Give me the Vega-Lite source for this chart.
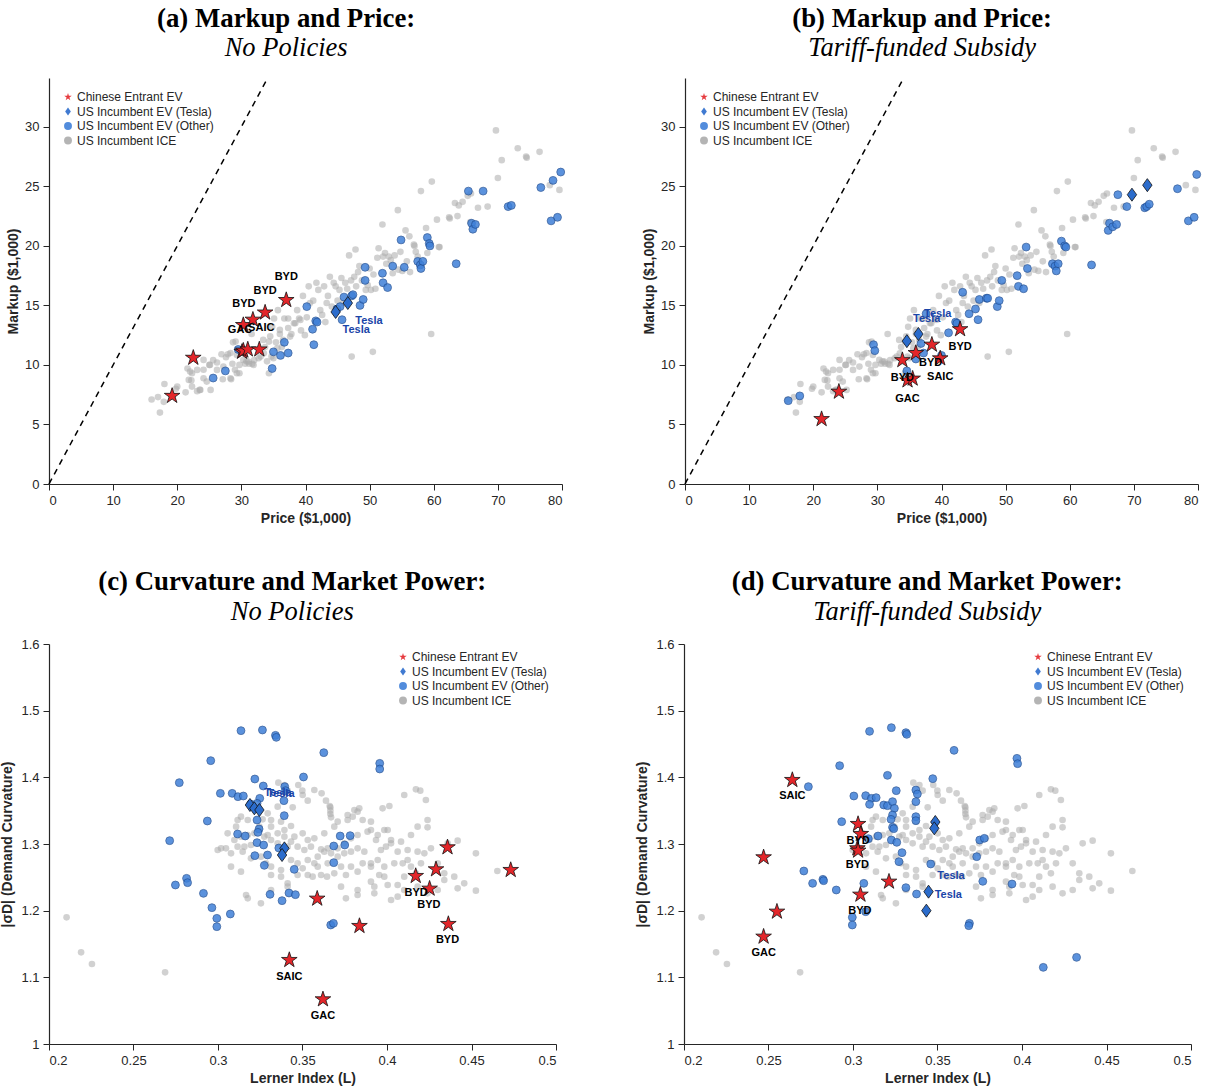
{
"$schema": "https://vega.github.io/schema/vega-lite/v6.json",
"padding": {"left": 0, "top": 5, "right": 5, "bottom": 5},
"background": "white",
"config": {
  "view": {"stroke": null},
  "axis": {"grid": false, "domainColor": "#262626", "domainWidth": 1.2, "tickColor": "#262626", "tickSize": 6, "tickWidth": 1, "labelFont": "Liberation Sans", "labelFontSize": 13, "labelColor": "#262626", "labelPadding": 4, "titleFont": "Liberation Sans", "titleFontSize": 14, "titleFontWeight": "bold", "titleColor": "#262626", "titlePadding": 4},
  "title": {"font": "Liberation Serif", "fontSize": 26.8, "fontWeight": "bold", "color": "black", "subtitleFont": "Liberation Serif", "subtitleFontSize": 26.5, "subtitleFontStyle": "italic", "subtitleFontWeight": "normal", "subtitleColor": "black", "subtitlePadding": 3, "offset": 13, "anchor": "middle", "frame": "bounds"},
  "legend": {"title": null, "labelFont": "Liberation Sans", "labelFontSize": 12, "labelColor": "#262626", "rowPadding": 2.5, "labelOffset": 3, "symbolSize": 62, "symbolOpacity": 0.9, "symbolStrokeWidth": 0}
},
"datasets": {
  "diag": [{"p": 0, "m": 0}, {"p": 34.1, "m": 34.1}],
  "iceTop": [
{"p":16.0,"m":7.1},{"p":17.3,"m":6.0},{"p":18.0,"m":8.4},{"p":17.9,"m":6.9},{"p":17.0,"m":7.3},{"p":19.8,"m":8.0},{"p":21.3,"m":7.7},{"p":21.6,"m":9.7},{"p":22.2,"m":8.7},{"p":22.3,"m":9.3},{"p":23.1,"m":7.8},{"p":23.5,"m":7.9},{"p":24.1,"m":9.6},{"p":24.6,"m":8.6},{"p":25.2,"m":7.9},{"p":25.0,"m":10.0},{"p":25.6,"m":10.4},{"p":26.2,"m":10.2},{"p":26.9,"m":10.9},{"p":27.1,"m":8.8},{"p":27.9,"m":10.9},{"p":28.4,"m":8.8},{"p":28.6,"m":10.1},{"p":28.7,"m":11.9},{"p":29.0,"m":9.6},{"p":29.7,"m":9.3},{"p":30.6,"m":10.1},{"p":30.8,"m":10.3},{"p":31.2,"m":10.1},{"p":31.6,"m":12.6},{"p":31.7,"m":10.1},{"p":32.0,"m":10.4},{"p":33.0,"m":10.7},{"p":33.4,"m":12.1},{"p":33.7,"m":11.5},{"p":34.0,"m":10.3},{"p":34.3,"m":9.3},{"p":34.5,"m":12.4},{"p":34.7,"m":10.7},{"p":34.8,"m":13.2},{"p":35.1,"m":13.9},{"p":35.4,"m":11.9},{"p":35.7,"m":14.6},{"p":36.0,"m":12.6},{"p":36.3,"m":11.5},{"p":36.7,"m":13.9},{"p":37.3,"m":13.1},{"p":37.3,"m":13.9},{"p":37.8,"m":12.6},{"p":38.4,"m":13.5},{"p":38.7,"m":14.6},{"p":39.0,"m":13.9},{"p":39.3,"m":12.9},{"p":39.6,"m":15.8},{"p":39.9,"m":12.5},{"p":40.2,"m":14.0},{"p":40.5,"m":16.6},{"p":40.7,"m":15.2},{"p":41.2,"m":15.4},{"p":41.7,"m":16.9},{"p":42.0,"m":16.3},{"p":42.3,"m":14.6},{"p":42.6,"m":14.2},{"p":42.9,"m":16.6},{"p":43.1,"m":13.6},{"p":43.3,"m":15.2},{"p":43.5,"m":15.8},{"p":43.8,"m":17.4},{"p":44.1,"m":14.9},{"p":44.4,"m":16.9},{"p":44.7,"m":16.6},{"p":45.0,"m":15.4},{"p":45.3,"m":16.3},{"p":45.6,"m":17.3},{"p":45.9,"m":15.2},{"p":46.2,"m":16.9},{"p":46.5,"m":16.4},{"p":46.8,"m":19.2},{"p":47.1,"m":17.1},{"p":47.2,"m":10.7},{"p":47.6,"m":17.4},{"p":47.8,"m":19.7},{"p":47.9,"m":16.6},{"p":48.2,"m":17.8},{"p":48.4,"m":18.3},{"p":48.8,"m":17.1},{"p":49.4,"m":16.3},{"p":49.7,"m":16.7},{"p":50.0,"m":18.1},{"p":50.2,"m":16.3},{"p":50.5,"m":11.1},{"p":50.6,"m":17.6},{"p":50.9,"m":16.4},{"p":51.2,"m":19.0},{"p":51.4,"m":19.8},{"p":52.0,"m":21.8},{"p":52.1,"m":19.1},{"p":52.4,"m":19.4},{"p":52.6,"m":18.5},{"p":53.0,"m":19.1},{"p":53.3,"m":18.8},{"p":53.6,"m":17.7},{"p":53.9,"m":19.2},{"p":54.4,"m":23.0},{"p":54.5,"m":18.0},{"p":54.8,"m":19.5},{"p":55.1,"m":17.9},{"p":55.6,"m":21.3},{"p":55.8,"m":18.7},{"p":56.2,"m":20.8},{"p":56.3,"m":17.8},{"p":56.9,"m":20.1},{"p":57.2,"m":19.5},{"p":57.5,"m":19.1},{"p":58.0,"m":24.6},{"p":58.8,"m":21.5},{"p":59.0,"m":19.4},{"p":59.6,"m":12.6},{"p":59.7,"m":25.4},{"p":60.5,"m":22.2},{"p":60.8,"m":19.9},{"p":62.4,"m":22.4},{"p":63.3,"m":23.6},{"p":63.7,"m":22.5},{"p":63.9,"m":23.4},{"p":64.5,"m":23.7},{"p":65.3,"m":24.2},{"p":65.8,"m":24.4},{"p":65.7,"m":22.0},{"p":66.9,"m":23.2},{"p":68.4,"m":23.3},{"p":69.7,"m":29.7},{"p":70.0,"m":25.7},{"p":70.6,"m":27.2},{"p":73.1,"m":28.2},{"p":74.4,"m":27.5},{"p":74.5,"m":27.4},{"p":76.5,"m":27.9},{"p":78.1,"m":25.1},{"p":79.6,"m":24.7},
{"p":27.6,"m":10.65},{"p":28.3,"m":11.0},{"p":29.1,"m":11.96},{"p":29.3,"m":10.84},{"p":29.7,"m":10.0},{"p":30.3,"m":10.42},{"p":31.1,"m":10.28},{"p":31.9,"m":10.0},{"p":32.7,"m":10.56},{"p":33.5,"m":10.98},{"p":34.3,"m":11.96},{"p":35.0,"m":10.56},{"p":35.6,"m":11.4},{"p":36.0,"m":12.94},{"p":36.5,"m":12.1},{"p":37.6,"m":12.38},{"p":38.2,"m":13.5},{"p":39.2,"m":13.78},{"p":22.0,"m":9.44},{"p":23.1,"m":9.58},{"p":24.1,"m":10.42},{"p":25.1,"m":10.0},{"p":26.2,"m":9.58},{"p":27.2,"m":9.86},{"p":28.3,"m":8.88},{"p":29.3,"m":9.3},{"p":24.1,"m":8.88},{"p":21.8,"m":8.74},{"p":22.3,"m":8.18},{"p":23.6,"m":7.9},{"p":20.0,"m":8.18},{"p":62.5,"m":22.3},{"p":60.9,"m":19.9},{"p":57.0,"m":20.0}
  ],
  "evA": [
{"p":29.5,"m":11.3,"g":"US Incumbent EV (Other)"},{"p":25.6,"m":8.9,"g":"US Incumbent EV (Other)"},{"p":27.5,"m":9.5,"g":"US Incumbent EV (Other)"},{"p":34.8,"m":9.7,"g":"US Incumbent EV (Other)"},{"p":35.0,"m":11.1,"g":"US Incumbent EV (Other)"},{"p":36.1,"m":10.8,"g":"US Incumbent EV (Other)"},{"p":36.7,"m":11.9,"g":"US Incumbent EV (Other)"},{"p":37.3,"m":11.0,"g":"US Incumbent EV (Other)"},{"p":40.2,"m":14.9,"g":"US Incumbent EV (Other)"},{"p":41.1,"m":13.0,"g":"US Incumbent EV (Other)"},{"p":41.3,"m":11.7,"g":"US Incumbent EV (Other)"},{"p":41.6,"m":13.7,"g":"US Incumbent EV (Other)"},{"p":41.8,"m":13.6,"g":"US Incumbent EV (Other)"},{"p":44.9,"m":14.7,"g":"US Incumbent EV (Other)"},{"p":45.4,"m":14.9,"g":"US Incumbent EV (Other)"},{"p":45.7,"m":13.8,"g":"US Incumbent EV (Other)"},{"p":46.0,"m":15.7,"g":"US Incumbent EV (Other)"},{"p":47.2,"m":15.8,"g":"US Incumbent EV (Other)"},{"p":47.4,"m":15.9,"g":"US Incumbent EV (Other)"},{"p":48.5,"m":15.0,"g":"US Incumbent EV (Other)"},{"p":49.0,"m":15.5,"g":"US Incumbent EV (Other)"},{"p":49.3,"m":18.2,"g":"US Incumbent EV (Other)"},{"p":49.3,"m":17.1,"g":"US Incumbent EV (Other)"},{"p":52.0,"m":17.7,"g":"US Incumbent EV (Other)"},{"p":52.1,"m":16.9,"g":"US Incumbent EV (Other)"},{"p":52.8,"m":16.5,"g":"US Incumbent EV (Other)"},{"p":53.6,"m":18.3,"g":"US Incumbent EV (Other)"},{"p":54.9,"m":20.5,"g":"US Incumbent EV (Other)"},{"p":55.4,"m":18.2,"g":"US Incumbent EV (Other)"},{"p":57.5,"m":18.7,"g":"US Incumbent EV (Other)"},{"p":57.9,"m":18.4,"g":"US Incumbent EV (Other)"},{"p":58.0,"m":18.1,"g":"US Incumbent EV (Other)"},{"p":58.3,"m":18.7,"g":"US Incumbent EV (Other)"},{"p":59.0,"m":20.7,"g":"US Incumbent EV (Other)"},{"p":59.3,"m":20.2,"g":"US Incumbent EV (Other)"},{"p":59.4,"m":20.0,"g":"US Incumbent EV (Other)"},{"p":63.5,"m":18.5,"g":"US Incumbent EV (Other)"},{"p":65.4,"m":24.6,"g":"US Incumbent EV (Other)"},{"p":65.9,"m":21.9,"g":"US Incumbent EV (Other)"},{"p":66.1,"m":21.4,"g":"US Incumbent EV (Other)"},{"p":66.5,"m":21.8,"g":"US Incumbent EV (Other)"},{"p":67.7,"m":24.6,"g":"US Incumbent EV (Other)"},{"p":71.6,"m":23.3,"g":"US Incumbent EV (Other)"},{"p":72.1,"m":23.4,"g":"US Incumbent EV (Other)"},{"p":76.7,"m":24.9,"g":"US Incumbent EV (Other)"},{"p":78.3,"m":22.1,"g":"US Incumbent EV (Other)"},{"p":78.6,"m":25.5,"g":"US Incumbent EV (Other)"},{"p":79.3,"m":22.4,"g":"US Incumbent EV (Other)"},{"p":79.8,"m":26.2,"g":"US Incumbent EV (Other)"},
{"p":44.7,"m":14.45,"g":"US Incumbent EV (Tesla)"},{"p":46.6,"m":15.2,"g":"US Incumbent EV (Tesla)"},
{"p":19.2,"m":7.4,"g":"Chinese Entrant EV"},{"p":22.5,"m":10.6,"g":"Chinese Entrant EV"},{"p":30.3,"m":13.35,"g":"Chinese Entrant EV"},{"p":31.8,"m":13.8,"g":"Chinese Entrant EV"},{"p":33.7,"m":14.4,"g":"Chinese Entrant EV"},{"p":37.0,"m":15.45,"g":"Chinese Entrant EV"},{"p":30.1,"m":11.1,"g":"Chinese Entrant EV"},{"p":30.3,"m":11.2,"g":"Chinese Entrant EV"},{"p":31.0,"m":11.3,"g":"Chinese Entrant EV"},{"p":32.8,"m":11.3,"g":"Chinese Entrant EV"}
  ],
  "labA": [
{"p":37.0,"m":17.4,"t":"BYD"},{"p":33.7,"m":16.2,"t":"BYD"},{"p":30.4,"m":15.1,"t":"BYD"},{"p":29.8,"m":12.95,"t":"GAC"},{"p":33.1,"m":13.1,"t":"SAIC"},{"p":49.9,"m":13.7,"t":"Tesla"},{"p":47.9,"m":12.95,"t":"Tesla"}
  ],
  "evB": [
{"p":16.1,"m":7.0,"g":"US Incumbent EV (Other)"},{"p":17.9,"m":7.4,"g":"US Incumbent EV (Other)"},{"p":29.4,"m":11.7,"g":"US Incumbent EV (Other)"},{"p":29.6,"m":11.2,"g":"US Incumbent EV (Other)"},{"p":34.6,"m":9.5,"g":"US Incumbent EV (Other)"},{"p":36.0,"m":10.5,"g":"US Incumbent EV (Other)"},{"p":37.2,"m":11.0,"g":"US Incumbent EV (Other)"},{"p":36.8,"m":11.8,"g":"US Incumbent EV (Other)"},{"p":37.6,"m":14.3,"g":"US Incumbent EV (Other)"},{"p":40.0,"m":10.8,"g":"US Incumbent EV (Other)"},{"p":41.1,"m":12.7,"g":"US Incumbent EV (Other)"},{"p":42.2,"m":13.6,"g":"US Incumbent EV (Other)"},{"p":42.4,"m":13.5,"g":"US Incumbent EV (Other)"},{"p":43.3,"m":16.1,"g":"US Incumbent EV (Other)"},{"p":44.3,"m":14.3,"g":"US Incumbent EV (Other)"},{"p":45.3,"m":14.7,"g":"US Incumbent EV (Other)"},{"p":45.7,"m":13.8,"g":"US Incumbent EV (Other)"},{"p":45.9,"m":15.5,"g":"US Incumbent EV (Other)"},{"p":47.0,"m":15.6,"g":"US Incumbent EV (Other)"},{"p":47.2,"m":15.6,"g":"US Incumbent EV (Other)"},{"p":48.7,"m":14.9,"g":"US Incumbent EV (Other)"},{"p":49.0,"m":15.4,"g":"US Incumbent EV (Other)"},{"p":49.4,"m":17.1,"g":"US Incumbent EV (Other)"},{"p":51.8,"m":17.5,"g":"US Incumbent EV (Other)"},{"p":52.0,"m":16.6,"g":"US Incumbent EV (Other)"},{"p":52.8,"m":16.4,"g":"US Incumbent EV (Other)"},{"p":53.2,"m":19.9,"g":"US Incumbent EV (Other)"},{"p":53.4,"m":18.1,"g":"US Incumbent EV (Other)"},{"p":57.3,"m":18.5,"g":"US Incumbent EV (Other)"},{"p":57.7,"m":18.3,"g":"US Incumbent EV (Other)"},{"p":57.9,"m":17.9,"g":"US Incumbent EV (Other)"},{"p":58.2,"m":18.5,"g":"US Incumbent EV (Other)"},{"p":58.7,"m":20.4,"g":"US Incumbent EV (Other)"},{"p":59.2,"m":20.0,"g":"US Incumbent EV (Other)"},{"p":59.4,"m":19.9,"g":"US Incumbent EV (Other)"},{"p":63.4,"m":18.4,"g":"US Incumbent EV (Other)"},{"p":66.0,"m":21.3,"g":"US Incumbent EV (Other)"},{"p":66.2,"m":21.9,"g":"US Incumbent EV (Other)"},{"p":66.7,"m":21.6,"g":"US Incumbent EV (Other)"},{"p":67.3,"m":21.8,"g":"US Incumbent EV (Other)"},{"p":67.5,"m":24.3,"g":"US Incumbent EV (Other)"},{"p":68.9,"m":23.3,"g":"US Incumbent EV (Other)"},{"p":71.7,"m":23.2,"g":"US Incumbent EV (Other)"},{"p":72.0,"m":23.3,"g":"US Incumbent EV (Other)"},{"p":72.4,"m":23.5,"g":"US Incumbent EV (Other)"},{"p":76.8,"m":24.8,"g":"US Incumbent EV (Other)"},{"p":78.5,"m":22.1,"g":"US Incumbent EV (Other)"},{"p":79.4,"m":22.4,"g":"US Incumbent EV (Other)"},{"p":79.8,"m":26.0,"g":"US Incumbent EV (Other)"},
{"p":34.6,"m":12.0,"g":"US Incumbent EV (Tesla)"},{"p":36.4,"m":12.6,"g":"US Incumbent EV (Tesla)"},{"p":69.7,"m":24.3,"g":"US Incumbent EV (Tesla)"},{"p":72.1,"m":25.1,"g":"US Incumbent EV (Tesla)"},
{"p":21.3,"m":5.45,"g":"Chinese Entrant EV"},{"p":24.0,"m":7.75,"g":"Chinese Entrant EV"},{"p":33.9,"m":10.4,"g":"Chinese Entrant EV"},{"p":36.0,"m":11.0,"g":"Chinese Entrant EV"},{"p":38.5,"m":11.7,"g":"Chinese Entrant EV"},{"p":39.8,"m":10.55,"g":"Chinese Entrant EV"},{"p":42.9,"m":13.0,"g":"Chinese Entrant EV"},{"p":34.7,"m":8.7,"g":"Chinese Entrant EV"},{"p":35.5,"m":8.85,"g":"Chinese Entrant EV"}
  ],
  "labB": [
{"p":42.9,"m":11.5,"t":"BYD"},{"p":38.3,"m":10.2,"t":"BYD"},{"p":39.8,"m":9.0,"t":"SAIC"},{"p":33.9,"m":8.9,"t":"BYD"},{"p":34.7,"m":7.1,"t":"GAC"},{"p":39.4,"m":14.3,"t":"Tesla"},{"p":37.7,"m":13.85,"t":"Tesla"}
  ],
  "iceBot": [
{"L":0.3357,"s":1.392},{"L":0.3393,"s":1.3885},{"L":0.3475,"s":1.3885},{"L":0.3499,"s":1.380},{"L":0.357,"s":1.381},{"L":0.3613,"s":1.376},{"L":0.3531,"s":1.365},{"L":0.3639,"s":1.365},{"L":0.3665,"s":1.355},{"L":0.3665,"s":1.350},{"L":0.3665,"s":1.345},{"L":0.3669,"s":1.340},{"L":0.3661,"s":1.357},{"L":0.3501,"s":1.3735},{"L":0.3412,"s":1.380},{"L":0.3442,"s":1.355},{"L":0.3353,"s":1.356},{"L":0.3294,"s":1.346},{"L":0.3264,"s":1.337},{"L":0.3314,"s":1.336},{"L":0.3373,"s":1.3335},{"L":0.3432,"s":1.327},{"L":0.3501,"s":1.316},{"L":0.3452,"s":1.311},{"L":0.3393,"s":1.321},{"L":0.3314,"s":1.326},{"L":0.3245,"s":1.326},{"L":0.3176,"s":1.336},{"L":0.3136,"s":1.341},{"L":0.3116,"s":1.336},{"L":0.3107,"s":1.326},{"L":0.3057,"s":1.316},{"L":0.3097,"s":1.306},{"L":0.3136,"s":1.311},{"L":0.3176,"s":1.3135},{"L":0.3215,"s":1.316},{"L":0.3274,"s":1.311},{"L":0.3314,"s":1.306},{"L":0.3353,"s":1.301},{"L":0.3412,"s":1.296},{"L":0.3471,"s":1.296},{"L":0.3531,"s":1.306},{"L":0.357,"s":1.3085},{"L":0.3629,"s":1.316},{"L":0.3688,"s":1.326},{"L":0.3708,"s":1.3335},{"L":0.3767,"s":1.3435},{"L":0.3807,"s":1.351},{"L":0.3826,"s":1.3485},{"L":0.3836,"s":1.3535},{"L":0.3905,"s":1.3335},{"L":0.3974,"s":1.3535},{"L":0.4014,"s":1.357},{"L":0.3885,"s":1.3185},{"L":0.3935,"s":1.306},{"L":0.3964,"s":1.291},{"L":0.3994,"s":1.296},{"L":0.4024,"s":1.306},{"L":0.4102,"s":1.3735},{"L":0.4171,"s":1.382},{"L":0.4197,"s":1.380},{"L":0.423,"s":1.366},{"L":0.424,"s":1.325},{"L":0.4083,"s":1.3035},{"L":0.4122,"s":1.291},{"L":0.4181,"s":1.2885},{"L":0.4221,"s":1.286},{"L":0.426,"s":1.2935},{"L":0.4359,"s":1.301},{"L":0.4418,"s":1.305},{"L":0.43,"s":1.271},{"L":0.4339,"s":1.256},{"L":0.4398,"s":1.251},{"L":0.4457,"s":1.241},{"L":0.4526,"s":1.286},{"L":0.4526,"s":1.230},{"L":0.4418,"s":1.2335},{"L":0.4339,"s":1.246},{"L":0.43,"s":1.231},{"L":0.424,"s":1.226},{"L":0.4181,"s":1.236},{"L":0.4102,"s":1.231},{"L":0.4063,"s":1.2385},{"L":0.3984,"s":1.251},{"L":0.3925,"s":1.236},{"L":0.3905,"s":1.266},{"L":0.3856,"s":1.271},{"L":0.3787,"s":1.266},{"L":0.3757,"s":1.2535},{"L":0.3728,"s":1.266},{"L":0.3708,"s":1.281},{"L":0.3669,"s":1.286},{"L":0.3629,"s":1.2885},{"L":0.359,"s":1.281},{"L":0.357,"s":1.271},{"L":0.3531,"s":1.276},{"L":0.3501,"s":1.2635},{"L":0.3471,"s":1.271},{"L":0.3432,"s":1.276},{"L":0.3373,"s":1.261},{"L":0.3314,"s":1.266},{"L":0.3284,"s":1.271},{"L":0.3254,"s":1.281},{"L":0.3195,"s":1.2785},{"L":0.3146,"s":1.2885},{"L":0.3077,"s":1.286},{"L":0.3047,"s":1.2935},{"L":0.3018,"s":1.2935},{"L":0.2998,"s":1.291},{"L":0.3077,"s":1.266},{"L":0.3136,"s":1.2585},{"L":0.3314,"s":1.2535},{"L":0.3373,"s":1.251},{"L":0.3412,"s":1.241},{"L":0.3471,"s":1.2535},{"L":0.3531,"s":1.2535},{"L":0.356,"s":1.251},{"L":0.359,"s":1.266},{"L":0.3649,"s":1.271},{"L":0.3688,"s":1.256},{"L":0.3728,"s":1.236},{"L":0.3757,"s":1.2185},{"L":0.3826,"s":1.231},{"L":0.3826,"s":1.2235},{"L":0.3905,"s":1.2435},{"L":0.3925,"s":1.226},{"L":0.3954,"s":1.2535},{"L":0.4004,"s":1.2385},{"L":0.4024,"s":1.216},{"L":0.4063,"s":1.221},{"L":0.4102,"s":1.251},{"L":0.4142,"s":1.266},{"L":0.4093,"s":1.271},{"L":0.4043,"s":1.271},{"L":0.3984,"s":1.266},{"L":0.3945,"s":1.276},{"L":0.3866,"s":1.2885},{"L":0.3826,"s":1.2935},{"L":0.3787,"s":1.2885},{"L":0.3747,"s":1.286},{"L":0.3708,"s":1.2935},{"L":0.3649,"s":1.2935},{"L":0.361,"s":1.292},{"L":0.355,"s":1.296},{"L":0.3511,"s":1.291},{"L":0.3432,"s":1.3035},{"L":0.3393,"s":1.311},{"L":0.3353,"s":1.316},{"L":0.3294,"s":1.3135},{"L":0.3195,"s":1.2985},{"L":0.3156,"s":1.296},{"L":0.3116,"s":1.296},{"L":0.3176,"s":1.2185},{"L":0.3254,"s":1.211},{"L":0.3314,"s":1.231},{"L":0.3412,"s":1.236},{"L":0.3166,"s":1.2235},{"L":0.4171,"s":1.256},{"L":0.4122,"s":1.276},{"L":0.4201,"s":1.271},{"L":0.424,"s":1.336},{"L":0.4181,"s":1.326},{"L":0.4142,"s":1.3135},{"L":0.4004,"s":1.321},{"L":0.3905,"s":1.321},{"L":0.3856,"s":1.336},{"L":0.3797,"s":1.341},{"L":0.3767,"s":1.336},{"L":0.3905,"s":1.271},{"L":0.3826,"s":1.2585},{"L":0.361,"s":1.2535},{"L":0.3645,"s":1.251},{"L":0.3747,"s":1.301},{"L":0.3787,"s":1.3085},{"L":0.3826,"s":1.3135},{"L":0.3945,"s":1.3135},{"L":0.3984,"s":1.321},{"L":0.4024,"s":1.301},{"L":0.4063,"s":1.2885},
{"L":0.4653,"s":1.2595},{"L":0.2104,"s":1.19},{"L":0.219,"s":1.1375},{"L":0.2254,"s":1.12},{"L":0.2687,"s":1.1075}
  ],
  "evC": [
{"L":0.3136,"s":1.470,"g":"US Incumbent EV (Other)"},{"L":0.3263,"s":1.471,"g":"US Incumbent EV (Other)"},{"L":0.334,"s":1.463,"g":"US Incumbent EV (Other)"},{"L":0.3345,"s":1.460,"g":"US Incumbent EV (Other)"},{"L":0.2957,"s":1.425,"g":"US Incumbent EV (Other)"},{"L":0.3626,"s":1.437,"g":"US Incumbent EV (Other)"},{"L":0.3957,"s":1.421,"g":"US Incumbent EV (Other)"},{"L":0.3957,"s":1.4125,"g":"US Incumbent EV (Other)"},{"L":0.2771,"s":1.392,"g":"US Incumbent EV (Other)"},{"L":0.3218,"s":1.3975,"g":"US Incumbent EV (Other)"},{"L":0.3506,"s":1.4005,"g":"US Incumbent EV (Other)"},{"L":0.3014,"s":1.376,"g":"US Incumbent EV (Other)"},{"L":0.3084,"s":1.376,"g":"US Incumbent EV (Other)"},{"L":0.3118,"s":1.371,"g":"US Incumbent EV (Other)"},{"L":0.315,"s":1.372,"g":"US Incumbent EV (Other)"},{"L":0.3268,"s":1.387,"g":"US Incumbent EV (Other)"},{"L":0.3395,"s":1.386,"g":"US Incumbent EV (Other)"},{"L":0.340,"s":1.380,"g":"US Incumbent EV (Other)"},{"L":0.339,"s":1.365,"g":"US Incumbent EV (Other)"},{"L":0.3247,"s":1.3685,"g":"US Incumbent EV (Other)"},{"L":0.3231,"s":1.361,"g":"US Incumbent EV (Other)"},{"L":0.3193,"s":1.360,"g":"US Incumbent EV (Other)"},{"L":0.3392,"s":1.3425,"g":"US Incumbent EV (Other)"},{"L":0.3231,"s":1.336,"g":"US Incumbent EV (Other)"},{"L":0.2937,"s":1.3345,"g":"US Incumbent EV (Other)"},{"L":0.3243,"s":1.3225,"g":"US Incumbent EV (Other)"},{"L":0.3236,"s":1.3175,"g":"US Incumbent EV (Other)"},{"L":0.3116,"s":1.315,"g":"US Incumbent EV (Other)"},{"L":0.3161,"s":1.312,"g":"US Incumbent EV (Other)"},{"L":0.2714,"s":1.305,"g":"US Incumbent EV (Other)"},{"L":0.3723,"s":1.312,"g":"US Incumbent EV (Other)"},{"L":0.3782,"s":1.3125,"g":"US Incumbent EV (Other)"},{"L":0.375,"s":1.2985,"g":"US Incumbent EV (Other)"},{"L":0.3685,"s":1.297,"g":"US Incumbent EV (Other)"},{"L":0.3231,"s":1.302,"g":"US Incumbent EV (Other)"},{"L":0.327,"s":1.2985,"g":"US Incumbent EV (Other)"},{"L":0.336,"s":1.294,"g":"US Incumbent EV (Other)"},{"L":0.3218,"s":1.2825,"g":"US Incumbent EV (Other)"},{"L":0.3293,"s":1.2835,"g":"US Incumbent EV (Other)"},{"L":0.3274,"s":1.268,"g":"US Incumbent EV (Other)"},{"L":0.3685,"s":1.272,"g":"US Incumbent EV (Other)"},{"L":0.3451,"s":1.262,"g":"US Incumbent EV (Other)"},{"L":0.2814,"s":1.2485,"g":"US Incumbent EV (Other)"},{"L":0.282,"s":1.242,"g":"US Incumbent EV (Other)"},{"L":0.2748,"s":1.2385,"g":"US Incumbent EV (Other)"},{"L":0.2914,"s":1.226,"g":"US Incumbent EV (Other)"},{"L":0.3308,"s":1.2245,"g":"US Incumbent EV (Other)"},{"L":0.342,"s":1.2265,"g":"US Incumbent EV (Other)"},{"L":0.3458,"s":1.224,"g":"US Incumbent EV (Other)"},{"L":0.3379,"s":1.215,"g":"US Incumbent EV (Other)"},{"L":0.2964,"s":1.2045,"g":"US Incumbent EV (Other)"},{"L":0.2993,"s":1.1885,"g":"US Incumbent EV (Other)"},{"L":0.2993,"s":1.176,"g":"US Incumbent EV (Other)"},{"L":0.3073,"s":1.195,"g":"US Incumbent EV (Other)"},{"L":0.3667,"s":1.1785,"g":"US Incumbent EV (Other)"},{"L":0.3683,"s":1.181,"g":"US Incumbent EV (Other)"},
{"L":0.3189,"s":1.3585,"g":"US Incumbent EV (Tesla)"},{"L":0.3215,"s":1.3535,"g":"US Incumbent EV (Tesla)"},{"L":0.3245,"s":1.351,"g":"US Incumbent EV (Tesla)"},{"L":0.3393,"s":1.2935,"g":"US Incumbent EV (Tesla)"},{"L":0.3379,"s":1.2835,"g":"US Incumbent EV (Tesla)"},
{"L":0.3587,"s":1.218,"g":"Chinese Entrant EV"},{"L":0.3837,"s":1.177,"g":"Chinese Entrant EV"},{"L":0.3422,"s":1.126,"g":"Chinese Entrant EV"},{"L":0.3621,"s":1.067,"g":"Chinese Entrant EV"},{"L":0.417,"s":1.252,"g":"Chinese Entrant EV"},{"L":0.4252,"s":1.233,"g":"Chinese Entrant EV"},{"L":0.429,"s":1.262,"g":"Chinese Entrant EV"},{"L":0.4358,"s":1.295,"g":"Chinese Entrant EV"},{"L":0.4363,"s":1.18,"g":"Chinese Entrant EV"},{"L":0.4732,"s":1.261,"g":"Chinese Entrant EV"}
  ],
  "labC": [
{"L":0.3422,"s":1.100,"t":"SAIC"},{"L":0.3621,"s":1.042,"t":"GAC"},{"L":0.4172,"s":1.227,"t":"BYD"},{"L":0.4248,"s":1.2085,"t":"BYD"},{"L":0.4358,"s":1.156,"t":"BYD"},{"L":0.3355,"s":1.3765,"t":"Tesla"},{"L":0.3372,"s":1.3745,"t":"Tesla"}
  ],
  "evD": [
{"L":0.3098,"s":1.469,"g":"US Incumbent EV (Other)"},{"L":0.3227,"s":1.4745,"g":"US Incumbent EV (Other)"},{"L":0.3313,"s":1.467,"g":"US Incumbent EV (Other)"},{"L":0.3318,"s":1.4645,"g":"US Incumbent EV (Other)"},{"L":0.3598,"s":1.4405,"g":"US Incumbent EV (Other)"},{"L":0.2921,"s":1.4175,"g":"US Incumbent EV (Other)"},{"L":0.3204,"s":1.403,"g":"US Incumbent EV (Other)"},{"L":0.3472,"s":1.398,"g":"US Incumbent EV (Other)"},{"L":0.397,"s":1.4285,"g":"US Incumbent EV (Other)"},{"L":0.3974,"s":1.4205,"g":"US Incumbent EV (Other)"},{"L":0.2736,"s":1.386,"g":"US Incumbent EV (Other)"},{"L":0.3005,"s":1.372,"g":"US Incumbent EV (Other)"},{"L":0.3075,"s":1.3725,"g":"US Incumbent EV (Other)"},{"L":0.3109,"s":1.3685,"g":"US Incumbent EV (Other)"},{"L":0.3137,"s":1.3695,"g":"US Incumbent EV (Other)"},{"L":0.3098,"s":1.3595,"g":"US Incumbent EV (Other)"},{"L":0.3182,"s":1.3585,"g":"US Incumbent EV (Other)"},{"L":0.3204,"s":1.3575,"g":"US Incumbent EV (Other)"},{"L":0.3234,"s":1.3635,"g":"US Incumbent EV (Other)"},{"L":0.3256,"s":1.380,"g":"US Incumbent EV (Other)"},{"L":0.3245,"s":1.3535,"g":"US Incumbent EV (Other)"},{"L":0.3372,"s":1.381,"g":"US Incumbent EV (Other)"},{"L":0.3381,"s":1.375,"g":"US Incumbent EV (Other)"},{"L":0.3372,"s":1.3635,"g":"US Incumbent EV (Other)"},{"L":0.3372,"s":1.341,"g":"US Incumbent EV (Other)"},{"L":0.3234,"s":1.3435,"g":"US Incumbent EV (Other)"},{"L":0.3225,"s":1.337,"g":"US Incumbent EV (Other)"},{"L":0.3234,"s":1.325,"g":"US Incumbent EV (Other)"},{"L":0.3241,"s":1.323,"g":"US Incumbent EV (Other)"},{"L":0.2933,"s":1.3335,"g":"US Incumbent EV (Other)"},{"L":0.3148,"s":1.312,"g":"US Incumbent EV (Other)"},{"L":0.3091,"s":1.308,"g":"US Incumbent EV (Other)"},{"L":0.3227,"s":1.306,"g":"US Incumbent EV (Other)"},{"L":0.3259,"s":1.3025,"g":"US Incumbent EV (Other)"},{"L":0.3372,"s":1.335,"g":"US Incumbent EV (Other)"},{"L":0.329,"s":1.287,"g":"US Incumbent EV (Other)"},{"L":0.3272,"s":1.2735,"g":"US Incumbent EV (Other)"},{"L":0.346,"s":1.270,"g":"US Incumbent EV (Other)"},{"L":0.375,"s":1.306,"g":"US Incumbent EV (Other)"},{"L":0.3777,"s":1.3085,"g":"US Incumbent EV (Other)"},{"L":0.3732,"s":1.281,"g":"US Incumbent EV (Other)"},{"L":0.3768,"s":1.244,"g":"US Incumbent EV (Other)"},{"L":0.2709,"s":1.2595,"g":"US Incumbent EV (Other)"},{"L":0.2761,"s":1.241,"g":"US Incumbent EV (Other)"},{"L":0.2822,"s":1.247,"g":"US Incumbent EV (Other)"},{"L":0.2826,"s":1.245,"g":"US Incumbent EV (Other)"},{"L":0.2901,"s":1.231,"g":"US Incumbent EV (Other)"},{"L":0.3064,"s":1.241,"g":"US Incumbent EV (Other)"},{"L":0.3313,"s":1.2345,"g":"US Incumbent EV (Other)"},{"L":0.3376,"s":1.225,"g":"US Incumbent EV (Other)"},{"L":0.2996,"s":1.190,"g":"US Incumbent EV (Other)"},{"L":0.2996,"s":1.1785,"g":"US Incumbent EV (Other)"},{"L":0.3075,"s":1.1985,"g":"US Incumbent EV (Other)"},{"L":0.3941,"s":1.24,"g":"US Incumbent EV (Other)"},{"L":0.4126,"s":1.115,"g":"US Incumbent EV (Other)"},{"L":0.4323,"s":1.13,"g":"US Incumbent EV (Other)"},{"L":0.3689,"s":1.181,"g":"US Incumbent EV (Other)"},{"L":0.3685,"s":1.1775,"g":"US Incumbent EV (Other)"},
{"L":0.3487,"s":1.333,"g":"US Incumbent EV (Tesla)"},{"L":0.3481,"s":1.3235,"g":"US Incumbent EV (Tesla)"},{"L":0.3447,"s":1.2285,"g":"US Incumbent EV (Tesla)"},{"L":0.3434,"s":1.200,"g":"US Incumbent EV (Tesla)"},
{"L":0.2641,"s":1.396,"g":"Chinese Entrant EV"},{"L":0.2471,"s":1.280,"g":"Chinese Entrant EV"},{"L":0.255,"s":1.1985,"g":"Chinese Entrant EV"},{"L":0.2471,"s":1.161,"g":"Chinese Entrant EV"},{"L":0.303,"s":1.330,"g":"Chinese Entrant EV"},{"L":0.3046,"s":1.315,"g":"Chinese Entrant EV"},{"L":0.3026,"s":1.2935,"g":"Chinese Entrant EV"},{"L":0.303,"s":1.290,"g":"Chinese Entrant EV"},{"L":0.3213,"s":1.2435,"g":"Chinese Entrant EV"},{"L":0.3044,"s":1.224,"g":"Chinese Entrant EV"}
  ],
  "labD": [
{"L":0.2641,"s":1.372,"t":"SAIC"},{"L":0.2471,"s":1.136,"t":"GAC"},{"L":0.303,"s":1.305,"t":"BYD"},{"L":0.3026,"s":1.2685,"t":"BYD"},{"L":0.3041,"s":1.1995,"t":"BYD"},{"L":0.358,"s":1.2525,"t":"Tesla"},{"L":0.3564,"s":1.2235,"t":"Tesla"}
  ]
},
"resolve": {"scale": {"fill": "independent", "shape": "independent"}},
"spacing": 43,
"vconcat": [
{
 "hconcat": [
  {
   "width": 513, "height": 406,
   "title": {"text": "(a) Markup and Price:", "subtitle": "No Policies"},
   "encoding": {
     "x": {"field": "p", "type": "quantitative", "scale": {"domain": [0, 80], "nice": false}, "axis": {"title": "Price ($1,000)", "values": [0,10,20,30,40,50,60,70,80]}},
     "y": {"field": "m", "type": "quantitative", "scale": {"domain": [0, 34.1], "nice": false}, "axis": {"title": "Markup ($1,000)", "values": [0,5,10,15,20,25,30], "minExtent": 25, "maxExtent": 25, "titlePadding": 4}}
   },
   "layer": [
    {"data": {"name": "diag"}, "mark": {"type": "line", "color": "black", "strokeWidth": 1.5, "strokeDash": [6, 5]}, "encoding": {}},
    {"data": {"name": "iceTop"}, "mark": {"type": "point", "filled": true, "size": 44, "opacity": 0.55, "strokeWidth": 0},
     "encoding": {
      "fill": {"datum": "US Incumbent ICE", "type": "nominal", "scale": {"domain": ["Chinese Entrant EV", "US Incumbent EV (Tesla)", "US Incumbent EV (Other)", "US Incumbent ICE"], "range": ["#e3262a", "#2b6ccc", "#3f80d8", "#acacac"]}, "legend": {"orient": "top-left", "offset": 13}},
      "shape": {"datum": "US Incumbent ICE", "type": "nominal", "scale": {"domain": ["Chinese Entrant EV", "US Incumbent EV (Tesla)", "US Incumbent EV (Other)", "US Incumbent ICE"], "range": ["M0,-1L0.2245,-0.309L0.951,-0.309L0.363,0.118L0.588,0.809L0,0.382L-0.588,0.809L-0.363,0.118L-0.951,-0.309L-0.2245,-0.309Z", "M0,-1L0.72,0L0,1L-0.72,0Z", "circle", "circle"]}, "legend": {"orient": "top-left", "offset": 13}}
     }},
    {"data": {"name": "evA"}, "mark": {"type": "point", "filled": true, "strokeWidth": 0.8},
     "encoding": {
      "fill": {"field": "g", "type": "nominal", "scale": {"domain": ["Chinese Entrant EV", "US Incumbent EV (Tesla)", "US Incumbent EV (Other)", "US Incumbent ICE"], "range": ["#e3262a", "#2b6ccc", "#3f80d8", "#acacac"]}, "legend": {"orient": "top-left", "offset": 13}},
      "shape": {"field": "g", "type": "nominal", "scale": {"domain": ["Chinese Entrant EV", "US Incumbent EV (Tesla)", "US Incumbent EV (Other)", "US Incumbent ICE"], "range": ["M0,-1L0.2245,-0.309L0.951,-0.309L0.363,0.118L0.588,0.809L0,0.382L-0.588,0.809L-0.363,0.118L-0.951,-0.309L-0.2245,-0.309Z", "M0,-1L0.72,0L0,1L-0.72,0Z", "circle", "circle"]}, "legend": {"orient": "top-left", "offset": 13}},
      "size": {"condition": [{"test": "datum.g === 'Chinese Entrant EV'", "value": 270}, {"test": "datum.g === 'US Incumbent EV (Tesla)'", "value": 170}], "value": 62},
      "stroke": {"condition": {"test": "datum.g === 'US Incumbent EV (Other)'", "value": "#1f4b8f"}, "value": "#111111"},
      "opacity": {"condition": {"test": "datum.g === 'US Incumbent EV (Other)'", "value": 0.85}, "value": 1}
     }},
    {"data": {"name": "labA"}, "mark": {"type": "text", "font": "Liberation Sans", "fontWeight": "bold", "fontSize": 11, "align": "center", "baseline": "middle"},
     "encoding": {"text": {"field": "t"}, "color": {"condition": {"test": "datum.t === 'Tesla'", "value": "#1a45a8"}, "value": "black"}}}
   ]
  },
  {
   "width": 513, "height": 406,
   "title": {"text": "(b) Markup and Price:", "subtitle": "Tariff-funded Subsidy"},
   "encoding": {
     "x": {"field": "p", "type": "quantitative", "scale": {"domain": [0, 80], "nice": false}, "axis": {"title": "Price ($1,000)", "values": [0,10,20,30,40,50,60,70,80]}},
     "y": {"field": "m", "type": "quantitative", "scale": {"domain": [0, 34.1], "nice": false}, "axis": {"title": "Markup ($1,000)", "values": [0,5,10,15,20,25,30], "minExtent": 25, "maxExtent": 25, "titlePadding": 4}}
   },
   "layer": [
    {"data": {"name": "diag"}, "mark": {"type": "line", "color": "black", "strokeWidth": 1.5, "strokeDash": [6, 5]}, "encoding": {}},
    {"data": {"name": "iceTop"}, "mark": {"type": "point", "filled": true, "size": 44, "opacity": 0.55, "strokeWidth": 0},
     "encoding": {
      "fill": {"datum": "US Incumbent ICE", "type": "nominal", "scale": {"domain": ["Chinese Entrant EV", "US Incumbent EV (Tesla)", "US Incumbent EV (Other)", "US Incumbent ICE"], "range": ["#e3262a", "#2b6ccc", "#3f80d8", "#acacac"]}, "legend": {"orient": "top-left", "offset": 13}},
      "shape": {"datum": "US Incumbent ICE", "type": "nominal", "scale": {"domain": ["Chinese Entrant EV", "US Incumbent EV (Tesla)", "US Incumbent EV (Other)", "US Incumbent ICE"], "range": ["M0,-1L0.2245,-0.309L0.951,-0.309L0.363,0.118L0.588,0.809L0,0.382L-0.588,0.809L-0.363,0.118L-0.951,-0.309L-0.2245,-0.309Z", "M0,-1L0.72,0L0,1L-0.72,0Z", "circle", "circle"]}, "legend": {"orient": "top-left", "offset": 13}}
     }},
    {"data": {"name": "evB"}, "mark": {"type": "point", "filled": true, "strokeWidth": 0.8},
     "encoding": {
      "fill": {"field": "g", "type": "nominal", "scale": {"domain": ["Chinese Entrant EV", "US Incumbent EV (Tesla)", "US Incumbent EV (Other)", "US Incumbent ICE"], "range": ["#e3262a", "#2b6ccc", "#3f80d8", "#acacac"]}, "legend": {"orient": "top-left", "offset": 13}},
      "shape": {"field": "g", "type": "nominal", "scale": {"domain": ["Chinese Entrant EV", "US Incumbent EV (Tesla)", "US Incumbent EV (Other)", "US Incumbent ICE"], "range": ["M0,-1L0.2245,-0.309L0.951,-0.309L0.363,0.118L0.588,0.809L0,0.382L-0.588,0.809L-0.363,0.118L-0.951,-0.309L-0.2245,-0.309Z", "M0,-1L0.72,0L0,1L-0.72,0Z", "circle", "circle"]}, "legend": {"orient": "top-left", "offset": 13}},
      "size": {"condition": [{"test": "datum.g === 'Chinese Entrant EV'", "value": 270}, {"test": "datum.g === 'US Incumbent EV (Tesla)'", "value": 170}], "value": 62},
      "stroke": {"condition": {"test": "datum.g === 'US Incumbent EV (Other)'", "value": "#1f4b8f"}, "value": "#111111"},
      "opacity": {"condition": {"test": "datum.g === 'US Incumbent EV (Other)'", "value": 0.85}, "value": 1}
     }},
    {"data": {"name": "labB"}, "mark": {"type": "text", "font": "Liberation Sans", "fontWeight": "bold", "fontSize": 11, "align": "center", "baseline": "middle"},
     "encoding": {"text": {"field": "t"}, "color": {"condition": {"test": "datum.t === 'Tesla'", "value": "#1a45a8"}, "value": "black"}}}
   ]
  }
 ],
 "spacing": 75,
 "resolve": {"scale": {"fill": "independent", "shape": "independent"}}
},
{
 "hconcat": [
  {
   "width": 507, "height": 400,
   "title": {"text": "(c) Curvature and Market Power:", "subtitle": "No Policies", "dx": 14},
   "encoding": {
     "x": {"field": "L", "type": "quantitative", "scale": {"domain": [0.2, 0.5], "nice": false}, "axis": {"title": "Lerner Index (L)", "values": [0.2,0.25,0.3,0.35,0.4,0.45,0.5], "format": "~g"}},
     "y": {"field": "s", "type": "quantitative", "scale": {"domain": [1, 1.6], "nice": false}, "axis": {"title": "|σD|  (Demand Curvature)", "values": [1,1.1,1.2,1.3,1.4,1.5,1.6], "format": "~g", "minExtent": 30, "maxExtent": 30, "titlePadding": 5}}
   },
   "layer": [
    {"data": {"name": "iceBot"}, "mark": {"type": "point", "filled": true, "size": 44, "opacity": 0.55, "strokeWidth": 0},
     "encoding": {
      "fill": {"datum": "US Incumbent ICE", "type": "nominal", "scale": {"domain": ["Chinese Entrant EV", "US Incumbent EV (Tesla)", "US Incumbent EV (Other)", "US Incumbent ICE"], "range": ["#e3262a", "#2b6ccc", "#3f80d8", "#acacac"]}, "legend": {"orient": "top-right", "offset": 7}},
      "shape": {"datum": "US Incumbent ICE", "type": "nominal", "scale": {"domain": ["Chinese Entrant EV", "US Incumbent EV (Tesla)", "US Incumbent EV (Other)", "US Incumbent ICE"], "range": ["M0,-1L0.2245,-0.309L0.951,-0.309L0.363,0.118L0.588,0.809L0,0.382L-0.588,0.809L-0.363,0.118L-0.951,-0.309L-0.2245,-0.309Z", "M0,-1L0.72,0L0,1L-0.72,0Z", "circle", "circle"]}, "legend": {"orient": "top-right", "offset": 7}}
     }},
    {"data": {"name": "evC"}, "mark": {"type": "point", "filled": true, "strokeWidth": 0.8},
     "encoding": {
      "fill": {"field": "g", "type": "nominal", "scale": {"domain": ["Chinese Entrant EV", "US Incumbent EV (Tesla)", "US Incumbent EV (Other)", "US Incumbent ICE"], "range": ["#e3262a", "#2b6ccc", "#3f80d8", "#acacac"]}, "legend": {"orient": "top-right", "offset": 7}},
      "shape": {"field": "g", "type": "nominal", "scale": {"domain": ["Chinese Entrant EV", "US Incumbent EV (Tesla)", "US Incumbent EV (Other)", "US Incumbent ICE"], "range": ["M0,-1L0.2245,-0.309L0.951,-0.309L0.363,0.118L0.588,0.809L0,0.382L-0.588,0.809L-0.363,0.118L-0.951,-0.309L-0.2245,-0.309Z", "M0,-1L0.72,0L0,1L-0.72,0Z", "circle", "circle"]}, "legend": {"orient": "top-right", "offset": 7}},
      "size": {"condition": [{"test": "datum.g === 'Chinese Entrant EV'", "value": 270}, {"test": "datum.g === 'US Incumbent EV (Tesla)'", "value": 170}], "value": 62},
      "stroke": {"condition": {"test": "datum.g === 'US Incumbent EV (Other)'", "value": "#1f4b8f"}, "value": "#111111"},
      "opacity": {"condition": {"test": "datum.g === 'US Incumbent EV (Other)'", "value": 0.85}, "value": 1}
     }},
    {"data": {"name": "labC"}, "mark": {"type": "text", "font": "Liberation Sans", "fontWeight": "bold", "fontSize": 11, "align": "center", "baseline": "middle"},
     "encoding": {"text": {"field": "t"}, "color": {"condition": {"test": "datum.t === 'Tesla'", "value": "#1a45a8"}, "value": "black"}}}
   ]
  },
  {
   "width": 507, "height": 400,
   "title": {"text": "(d) Curvature and Market Power:", "subtitle": "Tariff-funded Subsidy", "dx": 14},
   "encoding": {
     "x": {"field": "L", "type": "quantitative", "scale": {"domain": [0.2, 0.5], "nice": false}, "axis": {"title": "Lerner Index (L)", "values": [0.2,0.25,0.3,0.35,0.4,0.45,0.5], "format": "~g"}},
     "y": {"field": "s", "type": "quantitative", "scale": {"domain": [1, 1.6], "nice": false}, "axis": {"title": "|σD|  (Demand Curvature)", "values": [1,1.1,1.2,1.3,1.4,1.5,1.6], "format": "~g", "minExtent": 30, "maxExtent": 30, "titlePadding": 5}}
   },
   "layer": [
    {"data": {"name": "iceBot"}, "mark": {"type": "point", "filled": true, "size": 44, "opacity": 0.55, "strokeWidth": 0},
     "encoding": {
      "fill": {"datum": "US Incumbent ICE", "type": "nominal", "scale": {"domain": ["Chinese Entrant EV", "US Incumbent EV (Tesla)", "US Incumbent EV (Other)", "US Incumbent ICE"], "range": ["#e3262a", "#2b6ccc", "#3f80d8", "#acacac"]}, "legend": {"orient": "top-right", "offset": 7}},
      "shape": {"datum": "US Incumbent ICE", "type": "nominal", "scale": {"domain": ["Chinese Entrant EV", "US Incumbent EV (Tesla)", "US Incumbent EV (Other)", "US Incumbent ICE"], "range": ["M0,-1L0.2245,-0.309L0.951,-0.309L0.363,0.118L0.588,0.809L0,0.382L-0.588,0.809L-0.363,0.118L-0.951,-0.309L-0.2245,-0.309Z", "M0,-1L0.72,0L0,1L-0.72,0Z", "circle", "circle"]}, "legend": {"orient": "top-right", "offset": 7}}
     }},
    {"data": {"name": "evD"}, "mark": {"type": "point", "filled": true, "strokeWidth": 0.8},
     "encoding": {
      "fill": {"field": "g", "type": "nominal", "scale": {"domain": ["Chinese Entrant EV", "US Incumbent EV (Tesla)", "US Incumbent EV (Other)", "US Incumbent ICE"], "range": ["#e3262a", "#2b6ccc", "#3f80d8", "#acacac"]}, "legend": {"orient": "top-right", "offset": 7}},
      "shape": {"field": "g", "type": "nominal", "scale": {"domain": ["Chinese Entrant EV", "US Incumbent EV (Tesla)", "US Incumbent EV (Other)", "US Incumbent ICE"], "range": ["M0,-1L0.2245,-0.309L0.951,-0.309L0.363,0.118L0.588,0.809L0,0.382L-0.588,0.809L-0.363,0.118L-0.951,-0.309L-0.2245,-0.309Z", "M0,-1L0.72,0L0,1L-0.72,0Z", "circle", "circle"]}, "legend": {"orient": "top-right", "offset": 7}},
      "size": {"condition": [{"test": "datum.g === 'Chinese Entrant EV'", "value": 270}, {"test": "datum.g === 'US Incumbent EV (Tesla)'", "value": 170}], "value": 62},
      "stroke": {"condition": {"test": "datum.g === 'US Incumbent EV (Other)'", "value": "#1f4b8f"}, "value": "#111111"},
      "opacity": {"condition": {"test": "datum.g === 'US Incumbent EV (Other)'", "value": 0.85}, "value": 1}
     }},
    {"data": {"name": "labD"}, "mark": {"type": "text", "font": "Liberation Sans", "fontWeight": "bold", "fontSize": 11, "align": "center", "baseline": "middle"},
     "encoding": {"text": {"field": "t"}, "color": {"condition": {"test": "datum.t === 'Tesla'", "value": "#1a45a8"}, "value": "black"}}}
   ]
  }
 ],
 "spacing": 78,
 "resolve": {"scale": {"fill": "independent", "shape": "independent"}}
}
]
}
